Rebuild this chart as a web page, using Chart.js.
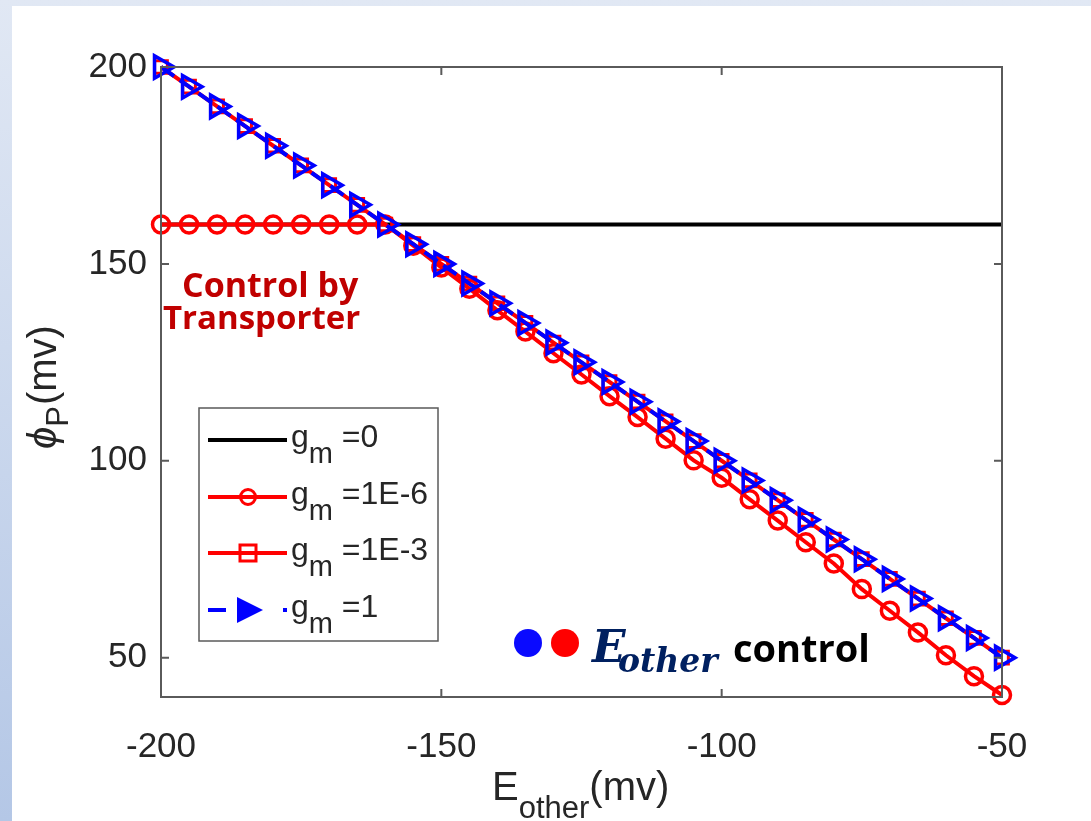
<!DOCTYPE html>
<html>
<head>
<meta charset="utf-8">
<script src="https://cdn.jsdelivr.net/npm/chart.js@4/dist/chart.umd.min.js"></script>
<style>
  html, body { margin: 0; padding: 0; }
  body { width: 1091px; height: 821px; overflow: hidden; position: relative;
         background: linear-gradient(to bottom, #e1e8f4, #b4c7e6); }
  #panel { position: absolute; left: 12px; top: 6px; right: 0; bottom: 0; background: #fff; }
  #grafico { position: absolute; left: 0; top: 0; }
</style>
</head>
<body>
<div id="panel"></div>
<canvas id="grafico" width="1091" height="821"></canvas>
<script>
// Datos
const eOther = [-200, -195, -190, -185, -180, -175, -170, -165, -160, -155, -150, -145, -140, -135, -130,
                -125, -120, -115, -110, -105, -100, -95, -90, -85, -80, -75, -70, -65, -60, -55, -50];
const phiG0 = [160, 160, 160, 160, 160, 160, 160, 160, 160, 160, 160, 160, 160, 160, 160,
               160, 160, 160, 160, 160, 160, 160, 160, 160, 160, 160, 160, 160, 160, 160, 160];
const phiG1e6 = [160, 160, 160, 160, 160, 160, 160, 160, 160, 154.6, 149.1, 143.7, 138.2, 132.8, 127.3,
                 121.9, 116.4, 111.1, 105.6, 100.1, 95.7, 90.2, 84.8, 79.3, 73.9, 67.4, 61.9, 56.4, 50.6, 45.3, 40.5];
const phiG1e3 = [200, 195, 190, 185, 180, 175, 170, 165, 160, 155, 150, 145, 140, 135, 130,
                 125, 120, 115, 110, 105, 100, 95, 90, 85, 80, 75, 70, 65, 60, 55, 50];
const phiG1 = [200, 195, 190, 185, 180, 175, 170, 165, 160, 155, 150, 145, 140, 135, 130,
               125, 120, 115, 110, 105, 100, 95, 90, 85, 80, 75, 70, 65, 60, 55, 50];
const xTicks = [-200, -150, -100, -50];
const yTicks = [50, 100, 150, 200];
const leyenda = ["=0", "=1E-6", "=1E-3", "=1"];

const ROJO = "#ff0000";
const AZUL = "#0000ff";
const GRIS = "#262626";
const SANS = "'Liberation Sans', Arial, sans-serif";

function puntos(ys) {
    return eOther.map((x, i) => ({ x: x, y: ys[i] }));
}

// Texto con subindice
function textoSub(ctx, x, y, base, sub, resto, tam, tamSub, bajada) {
    ctx.font = tam + "px " + SANS;
    ctx.fillText(base, x, y);
    x += ctx.measureText(base).width;
    ctx.font = tamSub + "px " + SANS;
    ctx.fillText(sub, x, y + bajada);
    x += ctx.measureText(sub).width;
    ctx.font = tam + "px " + SANS;
    ctx.fillText(resto, x, y);
}

function marcador(ctx, tipo, cx, cy) {
    ctx.save();
    ctx.setLineDash([]);
    ctx.lineWidth = 3;
    if (tipo === "circle") {
        ctx.strokeStyle = ROJO;
        ctx.beginPath(); ctx.arc(cx, cy, 7.5, 0, Math.PI * 2); ctx.stroke();
    } else if (tipo === "rect") {
        ctx.strokeStyle = ROJO;
        ctx.strokeRect(cx - 8, cy - 8, 16, 16);
    } else if (tipo === "tri") {
        ctx.fillStyle = AZUL;
        ctx.beginPath();
        ctx.moveTo(cx + 15, cy); ctx.lineTo(cx - 11, cy - 13); ctx.lineTo(cx - 11, cy + 13);
        ctx.closePath(); ctx.fill();
    }
    ctx.restore();
}

const decoracion = {
    id: "decoracion",
    afterDraw(chart) {
        const ctx = chart.ctx;
        const a = chart.chartArea;
        const sx = chart.scales.x, sy = chart.scales.y;
        ctx.save();

        // caja y marcas hacia adentro
        ctx.strokeStyle = "#5a5a5a";
        ctx.lineWidth = 2;
        ctx.strokeRect(a.left, a.top, a.right - a.left, a.bottom - a.top);
        ctx.beginPath();
        xTicks.forEach(v => {
            const px = sx.getPixelForValue(v);
            ctx.moveTo(px, a.bottom); ctx.lineTo(px, a.bottom - 8);
            ctx.moveTo(px, a.top); ctx.lineTo(px, a.top + 8);
        });
        yTicks.forEach(v => {
            const py = sy.getPixelForValue(v);
            ctx.moveTo(a.left, py); ctx.lineTo(a.left + 8, py);
            ctx.moveTo(a.right, py); ctx.lineTo(a.right - 8, py);
        });
        ctx.stroke();

        // leyenda
        ctx.fillStyle = "#fff";
        ctx.fillRect(199, 408, 239, 233);
        ctx.strokeStyle = "#5a5a5a";
        ctx.lineWidth = 1.5;
        ctx.strokeRect(199, 408, 239, 233);
        const filas = [440, 497, 553, 610];
        const estilos = [
            { color: "#000", dash: [], marca: null },
            { color: ROJO, dash: [], marca: "circle" },
            { color: ROJO, dash: [], marca: "rect" },
            { color: AZUL, dash: [18, 57, 4, 100], marca: "tri" }
        ];
        filas.forEach((fy, i) => {
            const e = estilos[i];
            ctx.strokeStyle = e.color;
            ctx.lineWidth = 4;
            ctx.setLineDash(e.dash);
            ctx.beginPath(); ctx.moveTo(208, fy); ctx.lineTo(287, fy); ctx.stroke();
            ctx.setLineDash([]);
            if (e.marca) marcador(ctx, e.marca, 248, fy);
            ctx.fillStyle = GRIS;
            ctx.textAlign = "left";
            ctx.textBaseline = "alphabetic";
            textoSub(ctx, 291, fy + 7, "g", "m", " =" + leyenda[i].slice(1), 32, 29, 16);
        });

        // anotacion roja
        ctx.fillStyle = "#c00000";
        ctx.font = "bold 34px 'Open Sans', Lato, sans-serif";
        ctx.fillText("Control by", 182, 297);
        ctx.font = "bold 33px 'Open Sans', Lato, sans-serif";
        ctx.fillText("Transporter", 163, 329);

        // puntos y texto E_other control
        ctx.fillStyle = "#0a0aff";
        ctx.beginPath(); ctx.arc(528, 643, 14, 0, Math.PI * 2); ctx.fill();
        ctx.fillStyle = ROJO;
        ctx.beginPath(); ctx.arc(565, 643, 14, 0, Math.PI * 2); ctx.fill();
        ctx.fillStyle = "#002060";
        ctx.font = "italic bold 44px 'DejaVu Serif', 'Liberation Serif', serif";
        ctx.fillText("E", 592, 662);
        ctx.font = "italic bold 33px 'DejaVu Serif', 'Liberation Serif', serif";
        ctx.fillText("other", 618, 672);
        ctx.fillStyle = "#000";
        ctx.font = "bold 38px 'Open Sans', Lato, sans-serif";
        ctx.fillText("control", 733, 662);

        // titulos de ejes
        ctx.fillStyle = GRIS;
        textoSub(ctx, 492, 800, "E", "other", "(mv)", 40, 31, 18);
        ctx.save();
        ctx.translate(56, 449);
        ctx.rotate(-Math.PI / 2);
        ctx.font = "italic 40px " + SANS;
        ctx.fillText("\u03d5", 0, 0);
        let w = ctx.measureText("\u03d5").width;
        ctx.font = "31px " + SANS;
        ctx.fillText("P", w, 12);
        w += ctx.measureText("P").width + 1;
        ctx.font = "40px " + SANS;
        ctx.fillText("(mv)", w, 0);
        ctx.restore();

        ctx.restore();
    }
};

const ctx = document.getElementById("grafico").getContext("2d");
new Chart(ctx, {
    type: "line",
    data: {
        datasets: [
            {
                label: "g_m =1",
                data: puntos(phiG1),
                borderColor: AZUL,
                borderWidth: 4,
                borderDash: [16, 7],
                pointStyle: "triangle",
                rotation: 90,
                pointRadius: 13,
                pointBorderWidth: 3.5,
                pointBorderColor: AZUL,
                pointBackgroundColor: "rgba(0,0,0,0)",
                clip: false,
                order: 0
            },
            {
                label: "g_m =1E-3",
                data: puntos(phiG1e3),
                borderColor: ROJO,
                borderWidth: 4,
                pointStyle: "rect",
                pointRadius: 9,
                pointBorderWidth: 3,
                pointBorderColor: ROJO,
                pointBackgroundColor: "rgba(0,0,0,0)",
                clip: false,
                order: 1
            },
            {
                label: "g_m =1E-6",
                data: puntos(phiG1e6),
                borderColor: ROJO,
                borderWidth: 4,
                pointStyle: "circle",
                pointRadius: 8.5,
                pointBorderWidth: 3.5,
                pointBorderColor: ROJO,
                pointBackgroundColor: "rgba(0,0,0,0)",
                clip: false,
                order: 2
            },
            {
                label: "g_m =0",
                data: puntos(phiG0),
                borderColor: "#000",
                borderWidth: 4,
                pointRadius: 0,
                clip: false,
                order: 3
            }
        ]
    },
    options: {
        responsive: false,
        animation: false,
        layout: { padding: { top: 67, right: 89, left: 0, bottom: 0 } },
        plugins: { legend: { display: false }, tooltip: { enabled: false } },
        scales: {
            x: {
                type: "linear",
                min: -200,
                max: -50,
                afterBuildTicks: (s) => { s.ticks = xTicks.map(v => ({ value: v })); },
                afterFit: (s) => { s.height = 124; },
                grid: { display: false, drawTicks: false },
                border: { display: false },
                ticks: { color: GRIS, padding: 29, maxRotation: 0,
                         font: { size: 35, family: SANS } }
            },
            y: {
                type: "linear",
                min: 40,
                max: 200,
                afterBuildTicks: (s) => { s.ticks = yTicks.map(v => ({ value: v })); },
                afterFit: (s) => { s.width = 161; },
                grid: { display: false, drawTicks: false },
                border: { display: false },
                ticks: { color: GRIS, padding: 14,
                         font: { size: 35, family: SANS } }
            }
        }
    },
    plugins: [decoracion]
});
</script>
</body>
</html>
